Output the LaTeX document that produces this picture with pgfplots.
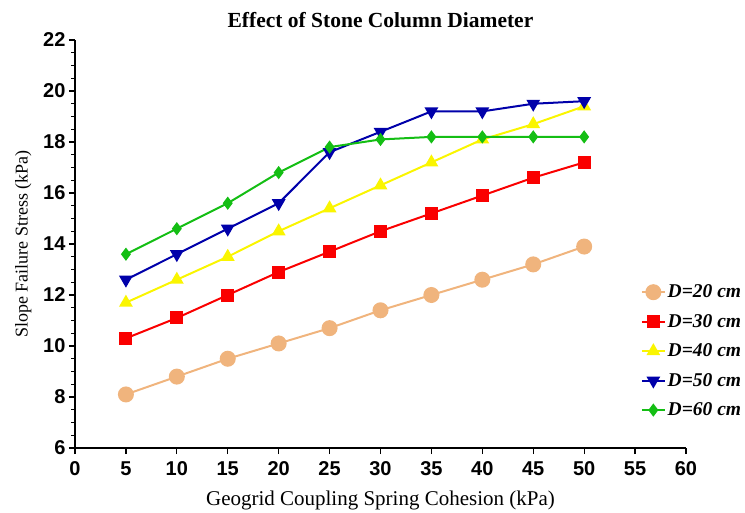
\documentclass[border=0pt]{standalone}
\usepackage{pgfplots}
\pgfplotsset{compat=1.18}
\usepackage{fontspec}
\setmainfont{Liberation Serif}
\setsansfont{Liberation Sans}
\definecolor{ctan}{RGB}{240,180,125}
\definecolor{cred}{RGB}{250,0,0}
\definecolor{cyel}{RGB}{250,245,0}
\definecolor{cblue}{RGB}{0,0,170}
\definecolor{cgreen}{RGB}{20,190,20}
\begin{document}
\begin{tikzpicture}
\useasboundingbox (-75pt,-64pt) rectangle (670pt,448pt);
\begin{axis}[
  at={(0,0)}, anchor=south west,
  scale only axis, width=611pt, height=408pt,
  xmin=0, xmax=60, ymin=6, ymax=22,
  axis lines=left, axis line style={line width=1.2pt,-},
  xtick={0,5,...,60}, ytick={6,8,...,22},
  minor y tick num=3,
  tick align=outside, tick style={line width=1.2pt,black},
  major tick length=6pt, minor tick length=3.5pt,
  /pgf/number format/assume math mode=true,
  tick label style={font=\fontsize{20}{22}\selectfont\sffamily\bfseries},
  xticklabel style={yshift=-4pt},
  xlabel={Geogrid Coupling Spring Cohesion (kPa)},
  ylabel={Slope Failure Stress (kPa)},
  xlabel style={font=\fontsize{21}{23}\selectfont, yshift=-8pt},
  ylabel style={font=\fontsize{18}{20}\selectfont, yshift=5pt},
  title={Effect of Stone Column Diameter},
  title style={font=\fontsize{21.5}{23}\selectfont\bfseries, yshift=3pt},
  clip=false,
  legend style={at={(0.926,0.405)}, anchor=north west, draw=none, fill=none,
    inner sep=0pt,
    font=\fontsize{19.5}{21}\selectfont\bfseries\itshape, row sep=11pt},
  legend cell align=left,
  legend image code/.code={\draw[mark repeat=2,mark phase=2,#1] plot coordinates {(0cm,0cm)(0.4cm,0cm)(0.8cm,0cm)};},
  every axis plot/.append style={line width=2pt},
]
\addplot[color=ctan, mark=*, mark size=7pt] coordinates {
(5,8.1)(10,8.8)(15,9.5)(20,10.1)(25,10.7)(30,11.4)(35,12.0)(40,12.6)(45,13.2)(50,13.9)};
\addlegendentry{D=20 cm}
\addplot[color=cred, mark=square*, mark size=5.5pt] coordinates {
(5,10.3)(10,11.1)(15,12.0)(20,12.9)(25,13.7)(30,14.5)(35,15.2)(40,15.9)(45,16.6)(50,17.2)};
\addlegendentry{D=30 cm}
\addplot[color=cyel, mark=triangle*, mark size=6pt] coordinates {
(5,11.7)(10,12.6)(15,13.5)(20,14.5)(25,15.4)(30,16.3)(35,17.2)(40,18.1)(45,18.7)(50,19.4)};
\addlegendentry{D=40 cm}
\addplot[color=cblue, mark=triangle*, mark options={rotate=180}, mark size=6pt] coordinates {
(5,12.6)(10,13.6)(15,14.6)(20,15.6)(25,17.6)(30,18.4)(35,19.2)(40,19.2)(45,19.5)(50,19.6)};
\addlegendentry{D=50 cm}
\addplot[color=cgreen, mark=diamond*, mark size=5pt] coordinates {
(5,13.6)(10,14.6)(15,15.6)(20,16.8)(25,17.8)(30,18.1)(35,18.2)(40,18.2)(45,18.2)(50,18.2)};
\addlegendentry{D=60 cm}
\end{axis}
\end{tikzpicture}
\end{document}
